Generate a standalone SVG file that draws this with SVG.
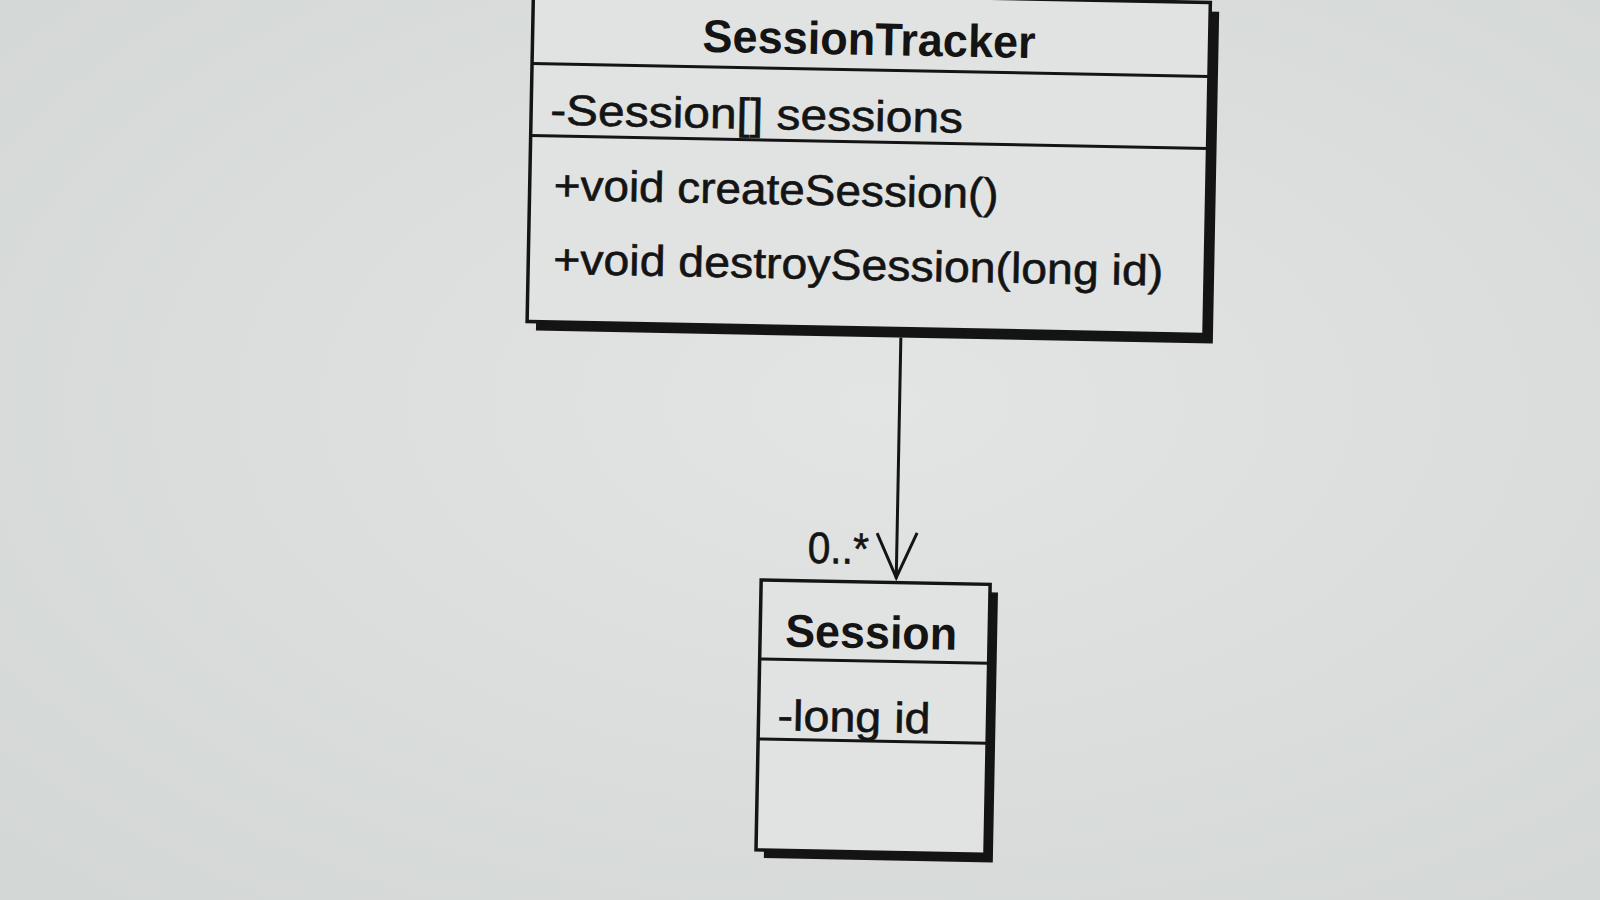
<svg xmlns="http://www.w3.org/2000/svg" width="1600" height="900" viewBox="0 0 1600 900">
  <defs>
    <radialGradient id="paper" cx="55%" cy="45%" r="75%">
      <stop offset="0" stop-color="#e3e5e4"/>
      <stop offset="1" stop-color="#d3d7d6"/>
    </radialGradient>
  </defs>
  <style>
    .box { fill: #e1e3e2; stroke: #141414; stroke-width: 3.5; }
    .shadow { fill: #141414; }
    .div { stroke: #141414; stroke-width: 3; fill: none; }
    .title { font-family: "Liberation Sans", Arial, sans-serif; font-weight: bold; font-size: 46px; fill: #141414; }
    .member { font-family: "Liberation Sans", Arial, sans-serif; font-size: 43px; fill: #141414; stroke: #141414; stroke-width: 0.6; }
    .mult { font-family: "Liberation Sans", Arial, sans-serif; font-size: 44px; fill: #141414; stroke: #141414; stroke-width: 0.6; }
    .edge { stroke: #141414; stroke-width: 3; fill: none; }
  </style>
  <rect x="0" y="0" width="1600" height="900" fill="url(#paper)"/>
  <g transform="rotate(1.1 870 330)">
    <g id="node-sessiontracker">
      <rect class="shadow" x="536" y="5" width="677" height="332"/>
      <rect class="box" x="527" y="-4" width="677" height="332"/>
      <line class="div" x1="527" y1="70" x2="1204" y2="70"/>
      <line class="div" x1="527" y1="142" x2="1204" y2="142"/>
      <text class="title" x="697" y="55" textLength="333" lengthAdjust="spacingAndGlyphs">SessionTracker</text>
      <text class="member" x="546" y="131" textLength="413" lengthAdjust="spacingAndGlyphs">-Session[] sessions</text>
      <text class="member" x="551" y="206" textLength="445" lengthAdjust="spacingAndGlyphs">+void createSession()</text>
      <text class="member" x="552" y="280" textLength="610" lengthAdjust="spacingAndGlyphs">+void destroySession(long id)</text>
    </g>
    <g id="node-session">
      <rect class="shadow" x="774" y="590" width="229" height="270"/>
      <rect class="box" x="766" y="582" width="229" height="270"/>
      <line class="div" x1="766" y1="661" x2="995" y2="661"/>
      <line class="div" x1="766" y1="741" x2="995" y2="741"/>
      <text class="title" x="791" y="648" textLength="172" lengthAdjust="spacingAndGlyphs">Session</text>
      <text class="member" x="785" y="732" textLength="153" lengthAdjust="spacingAndGlyphs">-long id</text>
    </g>
    <g id="connectors">
      <line class="edge" x1="901" y1="337" x2="901" y2="578"/>
      <polyline class="edge" points="881,533 901,577 921,532"/>
      <text class="mult" x="812" y="564" textLength="61" lengthAdjust="spacingAndGlyphs">0..*</text>
    </g>
  </g>
</svg>
